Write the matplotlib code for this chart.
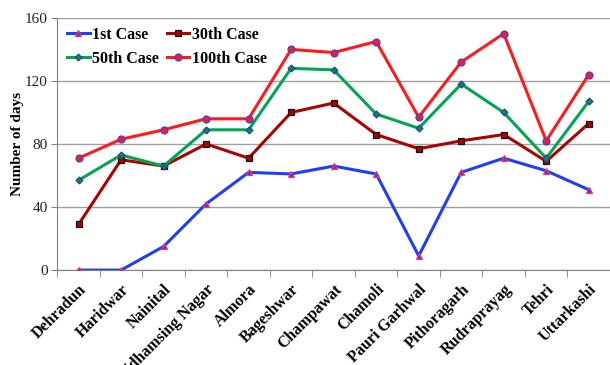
import matplotlib
matplotlib.use("Agg")
import matplotlib.pyplot as plt
from matplotlib.ticker import FixedLocator, NullFormatter
import numpy as np

districts = ["Dehradun", "Haridwar", "Nainital", "Udhamsing Nagar", "Almora",
             "Bageshwar", "Champawat", "Chamoli", "Pauri Garhwal", "Pithoragarh",
             "Rudraprayag", "Tehri", "Uttarkashi"]
case_1 = [0, 0, 15, 42, 62, 61, 66, 61, 9, 62, 71, 63, 51]
case_30 = [29, 70, 66, 80, 71, 100, 106, 86, 77, 82, 86, 69, 93]
case_50 = [57, 73, 66, 89, 89, 128, 127, 99, 90, 118, 100, 71, 107]
case_100 = [71, 83, 89, 96, 96, 140, 138, 145, 97, 132, 150, 82, 124]
y_ticks = [0, 40, 80, 120, 160]

plt.rcParams["font.family"] = ["Liberation Serif", "DejaVu Serif"]

fig = plt.figure(figsize=(6.1, 3.65), dpi=100)
ax = fig.add_axes([0.094, 0.26, 0.906, 0.691])

x = np.arange(len(districts))
styles = [
    (case_1, "1st Case", "#1f3dff", "^", "#3344ee", "#ff3355", 5),
    (case_30, "30th Case", "#b00000", "s", "#b00000", "#111111", 4.5),
    (case_50, "50th Case", "#00a651", "D", "#1a7a6a", "#1f4f8f", 3.5),
    (case_100, "100th Case", "#ff1a1a", "o", "#ff1a1a", "#3344ee", 5),
]
lines = {}
for vals, name, col, mk, mfc, mec, ms in styles:
    lines[name], = ax.plot(x, vals, color=col, lw=2.2, marker=mk, ms=ms,
                           mfc=mfc, mec=mec, mew=0.9, label=name, zorder=3)

ax.set_xlim(-0.5, len(districts) - 0.5)
ax.set_ylim(0, 160)
ax.set_yticks(y_ticks)
ax.yaxis.grid(True, color="#a0a0a0", lw=1)
ax.set_axisbelow(True)
for s in ("top", "right"):
    ax.spines[s].set_visible(False)
ax.spines["left"].set_color("#808080")
ax.spines["bottom"].set_color("#808080")
ax.tick_params(axis="y", colors="#808080", labelcolor="#222222", labelsize=11,
               length=4, pad=3)

# Category labels centred on points, tick marks on the boundaries
ax.set_xticks(x)
ax.set_xticklabels(districts, rotation=45, ha="right", rotation_mode="anchor",
                   fontsize=11.5, fontweight="bold")
ax.tick_params(axis="x", length=0, pad=8)
ax.xaxis.set_minor_locator(FixedLocator(np.arange(-0.5, len(districts), 1)))
ax.xaxis.set_minor_formatter(NullFormatter())
ax.tick_params(axis="x", which="minor", length=5, colors="#808080")

ax.set_ylabel("Number of days", fontsize=11, fontweight="bold")
ax.yaxis.set_label_coords(-0.06, 0.5)

# Row-wise legend order: 1st / 30th on top, 50th / 100th below
order = ["1st Case", "50th Case", "30th Case", "100th Case"]
ax.legend([lines[n] for n in order], order, loc="upper left", ncol=2,
          frameon=False, prop={"weight": "bold", "size": 11.5},
          handlelength=1.4, handletextpad=0.15, columnspacing=0.5,
          labelspacing=0.5, borderpad=0, borderaxespad=0,
          bbox_to_anchor=(0.018, 0.965))

fig.savefig("out.png", dpi=100)
